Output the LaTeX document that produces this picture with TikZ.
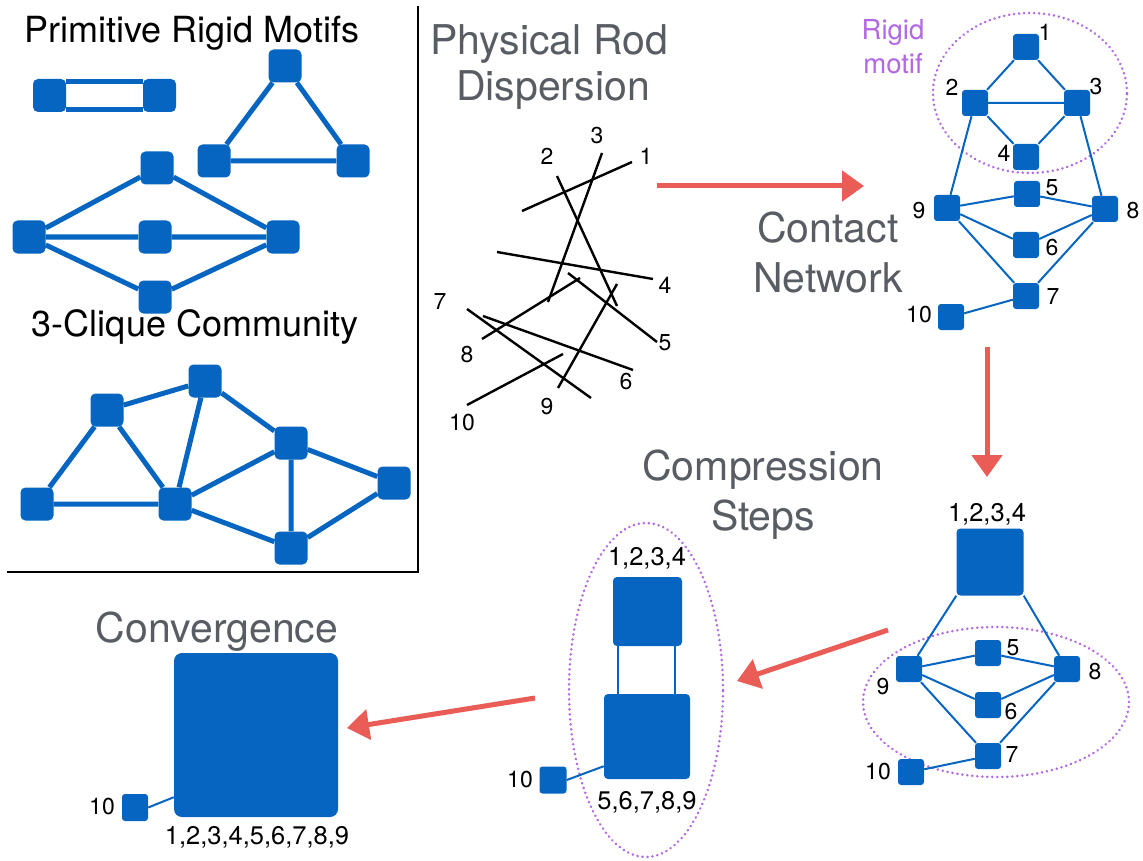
\documentclass[tikz,border=0pt]{standalone}
\usepackage{fontspec}
\setmainfont{TeX Gyre Heros}
\usetikzlibrary{arrows.meta,calc}

\definecolor{nodeblue}{RGB}{6,101,192}
\definecolor{motifpurple}{RGB}{178,104,228}
\definecolor{arrowred}{RGB}{234,92,86}
\definecolor{headgray}{RGB}{88,92,99}

\tikzset{
  pnode/.style={fill=nodeblue, minimum size=33pt, rounded corners=5pt, inner sep=0pt},
  pedge/.style={draw=nodeblue, line width=5pt},
  cnode/.style={fill=nodeblue, minimum size=26pt, rounded corners=3pt, inner sep=0pt},
  cedge/.style={draw=nodeblue, line width=2pt},
  rod/.style={draw=black, line width=2.4pt},
  lbl/.style={font=\fontsize{23}{23}\selectfont, inner sep=0pt},
  biglbl/.style={font=\fontsize{25.5}{26}\selectfont, inner sep=0pt},
  title/.style={font=\fontsize{36}{40}\selectfont, anchor=base, inner sep=0pt},
  head/.style={font=\fontsize{41}{44}\selectfont, text=headgray, anchor=base, inner sep=0pt},
  motiftext/.style={font=\fontsize{27.5}{29}\selectfont, text=motifpurple, anchor=base, inner sep=0pt},
  motifring/.style={draw=motifpurple, line width=2.8pt, line cap=round, dash pattern=on 0.01pt off 5pt},
  flow/.style={draw=arrowred, line width=5pt, -{Triangle[length=22pt,width=30pt]}},
}

\begin{document}
\begin{tikzpicture}[x=1pt,y=-1pt]
\useasboundingbox (0,0) rectangle (1143,861);
\fill[white] (0,0) rectangle (1143,861);

% ---------- legend panel ----------
\draw[line width=2.2pt] (7,572) -- (418,572) -- (418,6);
\node[title] (tprim) at (192,43) {Primitive Rigid Motifs};
\node[title] (tclique) at (195,336) {3-Clique Community};

% rod pair
\node[pnode] (rl) at (49.5,95.5) {};
\node[pnode] (rr) at (159.5,95.5) {};
\draw[pedge] ([yshift=-3pt]rl.north east) -- ([yshift=-3pt]rr.north west);
\draw[pedge] ([yshift=3pt]rl.south east) -- ([yshift=3pt]rr.south west);

% triangle
\node[pnode] (ta) at (285,66) {};
\node[pnode] (tb) at (214,161) {};
\node[pnode] (tc) at (353,161) {};
\draw[pedge] (ta) -- (tb) (ta) -- (tc) (tb) -- (tc);

% diamond
\node[pnode] (dt) at (157,168) {};
\node[pnode] (dl) at (29,237) {};
\node[pnode] (dm) at (155,237) {};
\node[pnode] (dr) at (283,237) {};
\node[pnode] (db) at (155,297) {};
\draw[pedge] (dl) -- (dt) (dt) -- (dr) (dl) -- (dm) (dm) -- (dr) (dl) -- (db) (db) -- (dr);

% 3-clique community
\node[pnode] (qa) at (37,504) {};
\node[pnode] (qb) at (107,410) {};
\node[pnode] (qc) at (205,381) {};
\node[pnode] (qd) at (175,504) {};
\node[pnode] (qe) at (291,443) {};
\node[pnode] (qf) at (394,483) {};
\node[pnode] (qg) at (291,548) {};
\draw[pedge] (qa) -- (qb) (qa) -- (qd) (qb) -- (qd) (qb) -- (qc) (qc) -- (qd)
  (qc) -- (qe) (qd) -- (qe) (qd) -- (qg) (qe) -- (qg) (qe) -- (qf) (qf) -- (qg);

% ---------- rod dispersion ----------
\node[head] (hphys) at (549,55) {Physical Rod};
\node[head] (hdisp) at (553,101) {Dispersion};
\draw[rod] (522,211) -- (632,162);
\draw[rod] (557,176) -- (617,306);
\draw[rod] (602,153) -- (548,302);
\draw[rod] (497,252) -- (653,279);
\draw[rod] (568,273) -- (657,342);
\draw[rod] (483,316) -- (633,370);
\draw[rod] (467,309) -- (591,398);
\draw[rod] (482,339) -- (580,278);
\draw[rod] (617,284) -- (558,388);
\draw[rod] (467,405) -- (563,354);
\node[lbl] (r1) at (646,156) {1};
\node[lbl] (r2) at (547,156) {2};
\node[lbl] (r3) at (597,136) {3};
\node[lbl] (r4) at (665,285) {4};
\node[lbl] (r5) at (665,343) {5};
\node[lbl] (r6) at (626,382) {6};
\node[lbl] (r7) at (440,302) {7};
\node[lbl] (r8) at (467,355) {8};
\node[lbl] (r9) at (547,407) {9};
\node[lbl] (r10) at (462,423) {10};

% ---------- contact network ----------
\draw[motifring] (1030,93) ellipse [x radius=97pt, y radius=80pt];
\node[motiftext] (mrigid) at (893,40) {Rigid};
\node[motiftext] (mmotif) at (893,74) {motif};
\node[head] (hcont) at (828,242) {Contact};
\node[head] (hnet) at (828,292) {Network};

\node[cnode] (c1) at (1026,47) {};
\node[cnode] (c2) at (975,103) {};
\node[cnode] (c3) at (1077,103) {};
\node[cnode] (c4) at (1026,157) {};
\node[cnode] (c5) at (1027,194) {};
\node[cnode] (c9) at (947,208) {};
\node[cnode] (c8) at (1105,209) {};
\node[cnode] (c6) at (1026,245) {};
\node[cnode] (c7) at (1026,296) {};
\node[cnode] (c10) at (951,317) {};
\draw[cedge] (c1) -- (c2) (c1) -- (c3) (c2) -- (c3) (c2) -- (c4) (c3) -- (c4)
  (c2) -- (c9) (c3) -- (c8) (c9) -- (c5) (c5) -- (c8) (c9) -- (c6) (c6) -- (c8)
  (c9) -- (c7) (c7) -- (c8) (c7) -- (c10);
\node[lbl] (lc1) at (1045,32) {1};
\node[lbl] (lc2) at (952,87) {2};
\node[lbl] (lc3) at (1096,87) {3};
\node[lbl] (lc4) at (1004,153) {4};
\node[lbl] (lc5) at (1052,188) {5};
\node[lbl] (lc9) at (919,211) {9};
\node[lbl] (lc8) at (1133,211) {8};
\node[lbl] (lc6) at (1052,248) {6};
\node[lbl] (lc7) at (1053,297) {7};
\node[lbl] (lc10) at (919,315) {10};

% ---------- first compression ----------
\node[head] (hcomp) at (763,480) {Compression};
\node[head] (hsteps) at (763,530) {Steps};
\draw[motifring] (996,702) ellipse [x radius=133pt, y radius=75pt];
\node[fill=nodeblue, minimum size=67pt, rounded corners=4pt, inner sep=0pt] (k1) at (990,562) {};
\node[biglbl] (lk1) at (987,514) {1,2,3,4};
\node[cnode] (k9) at (909,669) {};
\node[cnode] (k5) at (988,653) {};
\node[cnode] (k8) at (1067,669) {};
\node[cnode] (k6) at (988,705) {};
\node[cnode] (k7) at (988,756) {};
\node[cnode] (k10) at (911,772) {};
\draw[cedge] (k1.south west) -- (k9) (k1.south east) -- (k8)
  (k9) -- (k5) (k5) -- (k8) (k9) -- (k6) (k6) -- (k8)
  (k9) -- (k7) (k7) -- (k8) (k7) -- (k10);
\node[lbl] (lk5) at (1013,648) {5};
\node[lbl] (lk8) at (1095,672) {8};
\node[lbl] (lk9) at (883,687) {9};
\node[lbl] (lk6) at (1011,712) {6};
\node[lbl] (lk7) at (1012,755) {7};
\node[lbl] (lk10) at (878,772) {10};

% ---------- second compression ----------
\draw[motifring] (646,690) ellipse [x radius=77pt, y radius=167pt];
\node[fill=nodeblue, minimum size=69pt, rounded corners=4pt, inner sep=0pt] (m1) at (647.5,611.5) {};
\node[fill=nodeblue, minimum width=86pt, minimum height=85pt, rounded corners=4pt, inner sep=0pt] (m2) at (647,736.5) {};
\node[cnode, minimum size=27pt] (m10) at (553,780) {};
\draw[cedge] ([xshift=5pt]m1.south west) -- ([xshift=5pt]m1.south west |- m2.north);
\draw[cedge] ([xshift=-7pt]m1.south east) -- ([xshift=-7pt]m1.south east |- m2.north);
\draw[cedge] (m10.east) -- ([yshift=13pt]m2.south west);
\node[biglbl] (lm1) at (647,558) {1,2,3,4};
\node[biglbl] (lm2) at (647,802) {5,6,7,8,9};
\node[lbl] (lm10) at (520,780) {10};

% ---------- convergence ----------
\node[head] (hconv) at (217,642) {Convergence};
\node[fill=nodeblue, minimum size=164pt, rounded corners=8pt, inner sep=0pt] (v1) at (256,735) {};
\node[cnode, minimum height=27pt] (v10) at (135,807.5) {};
\draw[cedge] (v10.east) -- ([yshift=20pt]v1.south west);
\node[lbl] (lv10) at (102,807) {10};
\node[biglbl] (lv1) at (257,837) {1,2,3,4,5,6,7,8,9};

% ---------- process arrows ----------
\coordinate (a1s) at (657,186);
\coordinate (a1e) at (864,186);
\coordinate (a2s) at (987,347);
\coordinate (a2e) at (987,477);
\coordinate (a3s) at (888,630);
\coordinate (a3e) at (737,681);
\coordinate (a4s) at (535,698);
\coordinate (a4e) at (347,728);
\draw[flow] (a1s) -- (a1e);
\draw[flow] (a2s) -- (a2e);
\draw[flow] (a3s) -- (a3e);
\draw[flow] (a4s) -- (a4e);
\end{tikzpicture}
\end{document}
